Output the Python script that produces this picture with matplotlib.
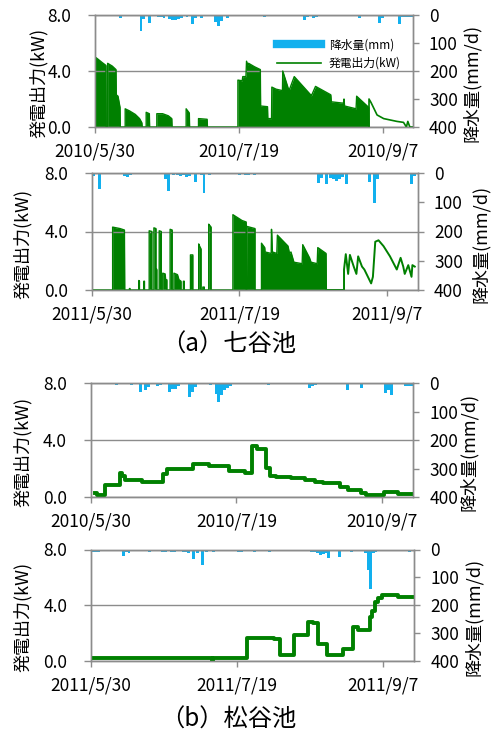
import matplotlib
matplotlib.use('Agg')
import matplotlib.pyplot as plt
from matplotlib.lines import Line2D

plt.rcParams['font.family'] = ['Noto Sans CJK JP', 'DejaVu Sans']

W, H = 499, 736
GREEN = '#008000'
BLUE = '#12B0EE'
GRAY = '#8C8C8C'

# days counted from 5/30 of each year
tick_days = [0, 50, 100]
labels_2010 = ['2010/5/30', '2010/7/19', '2010/9/7']
labels_2011 = ['2011/5/30', '2011/7/19', '2011/9/7']

# ---- (a) 七谷池 2010 ----
r1_day = [9, 16, 17, 19, 22, 23, 24, 26, 27, 28, 29, 30, 32, 34, 35, 37, 42, 43, 44, 46,
          59, 60, 73, 74, 76, 77, 92, 99, 100, 106, 107, 108, 109, 110]
r1_mm = [10, 57, 15, 28, 7, 8, 10, 14, 17, 18, 16, 12, 8, 33, 10, 9, 25, 39, 20, 10,
         7, 5, 18, 8, 10, 8, 12, 27, 12, 33, 7, 8, 6, 8]
# upper envelope of the on/off output
p1f_day = [0, 0, 1.0, 2.5, 3.8, 3.9,
           4.4, 4.4, 6.0, 7.3, 7.4, 8.0, 8.7, 8.8,
           10.5, 10.5, 12.0, 14.0, 15.5, 16.3, 16.4,
           17.8, 17.8, 18.9, 19.0,
           21.5, 21.5, 23.5, 25.5, 26.7, 26.8,
           31.7, 31.7, 32.8, 32.9,
           36.0, 36.0, 39.0, 39.1,
           49.7, 49.7, 51.2, 51.4, 52.5, 52.7, 53.2, 53.4, 55.5, 57.5, 57.6, 60.0, 60.1,
           61.4, 61.5, 63.0, 65.2, 65.3, 67.3, 67.5, 69.3, 75.0, 75.2, 76.7, 82.0, 82.2,
           86.4, 86.6, 86.8, 90.8, 91.0, 95.2, 95.3]
p1f_kw = [0, 5.0, 4.85, 4.6, 4.4, 0,
          0, 4.55, 4.35, 4.1, 2.3, 2.2, 1.4, 0,
          0, 1.3, 1.15, 0.9, 0.6, 0.3, 0,
          0, 1.05, 0.95, 0,
          0, 0.95, 0.95, 0.8, 0.6, 0,
          0, 1.3, 1.0, 0,
          0, 0.6, 0.55, 0,
          0, 3.35, 3.3, 3.6, 3.6, 4.7, 4.4, 4.55, 4.3, 4.1, 1.5, 1.45, 0.6,
          0.6, 2.85, 2.7, 2.6, 4.0, 2.7, 2.6, 3.6, 2.3, 2.2, 2.9, 2.3, 1.8,
          1.7, 2.0, 1.5, 1.3, 2.2, 1.4, 0]
p1l_day = [95.3, 95.3, 96.0, 98.1, 100.4, 102.7, 105.0, 107.3, 108.3, 108.8, 109.5, 110.8]
p1l_kw = [0, 2.0, 1.75, 0.86, 0.6, 0.5, 0.4, 0.33, 0.0, 0.4, 0.0, 0.0]

# ---- (a) 七谷池 2011 ----
r2_day = [0.5, 2.5, 11, 12, 13, 18, 21.5, 24.8, 26, 27.5, 29, 30, 31, 32, 33, 35, 37, 38, 40,
          50, 51, 52, 53, 54, 55, 56, 57, 60,
          77, 78, 79.5, 81, 82, 83, 84, 85, 86.5, 94, 95.7, 97, 108.5, 109.5]
r2_mm = [10, 56, 10, 14, 8, 5, 5, 22, 62, 8, 8, 10, 8, 12, 9, 30, 8, 68, 6,
         6, 5, 6, 6, 5, 6, 5, 5, 5,
         33, 16, 38, 18, 22, 27, 20, 14, 38, 30, 102, 22, 37, 10]
p2f_day = [0, 7.0, 7.0, 9.5, 11.0, 11.1,
           12.7, 12.7, 12.9, 12.9,
           15.9, 15.9, 16.1, 16.1,
           17.6, 17.6, 17.8, 17.8,
           19.4, 19.4, 20.3, 20.3,
           21.0, 21.0, 21.7, 21.7, 22.0, 22.0,
           22.8, 22.8, 23.5, 23.5,
           24.0, 24.0, 24.8, 25.0, 25.4, 25.4,
           26.5, 26.5, 27.2, 27.2,
           27.8, 27.8, 29.0, 29.5, 30.2, 30.2,
           31.0, 31.0, 31.3, 31.3,
           33.4, 33.4, 34.2, 34.2,
           36.2, 36.2, 36.5, 37.0, 37.0,
           37.6, 37.6, 38.1, 38.1,
           39.6, 39.6, 40.0, 40.4, 40.4,
           47.8, 47.8, 50.9, 52.3, 52.4, 52.5, 55.3, 55.3,
           57.5, 57.5, 58.6, 58.7, 60.8, 60.9, 61.2, 62.7, 62.9, 66.5, 67.0, 67.5,
           68.5, 71.3, 71.5, 73.8, 74.3, 76.4, 76.6, 79.4, 79.5]
p2f_kw = [0, 0, 4.3, 4.2, 4.1, 0,
          0, 0.1, 0.1, 0,
          0, 0.65, 0.6, 0,
          0, 0.6, 0.6, 0,
          0, 4.05, 4.0, 0,
          0, 4.25, 4.2, 1.5, 1.4, 0,
          0, 4.05, 4.0, 0,
          0, 1.15, 1.1, 0.7, 0.7, 0,
          0, 4.15, 4.1, 0,
          0, 1.15, 1.05, 0.7, 0.6, 0,
          0, 0.6, 0.6, 0,
          0, 2.4, 2.4, 0,
          0, 3.15, 3.0, 2.8, 0,
          0, 0.2, 0.2, 0,
          0, 4.5, 4.4, 4.3, 0,
          0, 5.15, 4.75, 4.65, 0, 4.35, 4.2, 0,
          0, 3.2, 2.9, 2.6, 2.5, 4.15, 2.6, 2.5, 3.75, 3.0, 2.5, 2.6,
          1.9, 1.8, 3.1, 2.2, 1.9, 1.8, 2.9, 2.5, 0]
p2l_day = [79.5, 85.5, 85.5, 86.1, 86.9, 87.5, 88.8, 89.7, 90.3, 91.6, 92.4, 94.7, 95.3,
           96.1, 97.2, 98.9, 101.1, 103.4, 104.7, 105.6, 106.1, 107.3, 108.4, 108.7, 109.5]
p2l_kw = [0, 0, 1.4, 2.45, 1.1, 2.4, 1.6, 1.1, 2.3, 1.6, 1.4, 0.45, 0.9,
          3.3, 3.4, 3.0, 2.3, 1.4, 2.2, 1.6, 1.1, 1.7, 0.9, 1.7, 1.6]

# ---- (b) 松谷池 2010 ----
r3_day = [9, 14, 17, 19, 20, 23, 24, 27, 28, 29, 30, 34, 35, 36, 41, 43, 44, 45, 46, 47, 48,
          61, 75, 76, 77, 88, 93, 101, 102, 103, 108, 109, 110]
r3_mm = [8, 6, 32, 24, 15, 10, 8, 32, 22, 22, 12, 48, 30, 15, 7, 37, 67, 42, 26, 18, 12,
         6, 16, 12, 6, 25, 16, 35, 25, 42, 12, 9, 12]
p3_day = [1.7, 2.2, 4.9, 10.0, 10.9, 11.7, 17.8, 24.9, 26.2, 35.1, 40.5, 47.4, 52.8, 55.2,
          57.0, 60.0, 61.5, 63.5, 68.8, 73.4, 76.8, 79.7, 85.6, 88.2, 92.7, 94.3, 100.5,
          105.3, 110.5]
p3_kw = [0.3, 0.15, 0.82, 1.68, 1.5, 1.2, 1.05, 1.58, 1.97, 2.32, 2.2, 1.82, 1.68, 3.58,
         3.4, 2.05, 1.5, 1.43, 1.33, 1.2, 1.05, 0.95, 0.72, 0.5, 0.3, 0.17, 0.36,
         0.19, 0.19]

# ---- (b) 松谷池 2011 ----
r4_day = [0.5, 1.5, 2.5, 11, 12, 13, 20, 24.5, 25.5, 27.5, 28.5, 31.5, 32.5, 33.5, 35, 36.5,
          38, 39.5, 42, 50.5, 51.5, 56, 61, 75.5, 76.5, 77.5, 78.5, 79.5, 80.5, 81.2,
          85, 89, 94, 94.8, 95.6, 96.6, 97.5, 109]
r4_mm = [10, 10, 10, 22, 10, 12, 8, 8, 8, 8, 8, 8, 10, 12, 35, 12, 56, 10, 8, 8, 8, 8, 8,
         8, 10, 12, 20, 15, 12, 30, 27, 8, 12, 75, 142, 12, 10, 10]
p4_day = [0.0, 41.2, 41.5, 41.8, 53.5, 62.5, 64.8, 69.3, 74.4, 76.0, 77.8, 80.6, 86.3,
          89.5, 91.3, 95.4, 96.3, 97.2, 98.3, 99.5, 105.0, 110.5]
p4_kw = [0.22, 0.22, 0.0, 0.22, 1.65, 1.55, 0.46, 1.9, 2.8, 2.7, 1.25, 0.41, 0.84,
         2.44, 2.2, 3.15, 3.6, 4.2, 4.55, 4.72, 4.6, 4.6]

fig = plt.figure(figsize=(W / 100, H / 100), dpi=100)


def px_axes(left, top, right, bottom):
    return fig.add_axes([left / W, 1 - bottom / H, (right - left) / W, (bottom - top) / H])


def setup(ax, rain_day, rain_mm, xlabels, ylab_x, rlab_x):
    ax2 = ax.twinx()
    ax2.bar(rain_day, rain_mm, width=1.0, color=BLUE, linewidth=0)
    ax2.set_ylim(400, 0)
    ax2.set_yticks([0, 100, 200, 300, 400])
    ax.set_zorder(ax2.get_zorder() + 1)
    ax.patch.set_visible(False)

    ax.set_xlim(0, 110.6)
    ax.set_ylim(0, 8)
    ax.set_yticks([0, 4, 8])
    ax.set_yticklabels(['0.0', '4.0', '8.0'])
    ax.set_xticks(tick_days)
    ax.set_xticklabels(xlabels)
    ax.grid(axis='y', color=GRAY, lw=1)
    for a in (ax, ax2):
        for s in a.spines.values():
            s.set_color(GRAY)
            s.set_linewidth(1)
        a.tick_params(direction='out', width=1, color=GRAY, labelsize=12.5)
    ax.tick_params(axis='x', length=4, pad=7.5)
    ax.tick_params(axis='y', length=5, pad=12)
    ax2.tick_params(axis='y', length=4, pad=7.5)

    bb = ax.get_position()
    yc = (1 - (bb.y0 + bb.y1) / 2) * H + 12
    fig.text(ylab_x / W, 1 - yc / H, '発電出力(kW)', rotation=90,
             ha='center', va='center', fontsize=13)
    fig.text(rlab_x / W, 1 - yc / H, '降水量(mm/d)', rotation=90,
             ha='center', va='center', fontsize=13)
    return ax2


ax1 = px_axes(95, 15, 413, 127)
setup(ax1, r1_day, r1_mm, labels_2010, 39, 472)
ax1.fill_between(p1f_day, 0, p1f_kw, color=GREEN, lw=0)
ax1.plot(p1f_day, p1f_kw, color=GREEN, lw=1.0)
ax1.plot(p1l_day, p1l_kw, color=GREEN, lw=1.2)

ax2 = px_axes(92, 173, 418, 290)
setup(ax2, r2_day, r2_mm, labels_2011, 23, 481)
ax2.fill_between(p2f_day, 0, p2f_kw, color=GREEN, lw=0)
ax2.plot(p2f_day, p2f_kw, color=GREEN, lw=1.0)
ax2.plot(p2l_day, p2l_kw, color=GREEN, lw=1.4)

ax3 = px_axes(90.5, 383, 413.3, 497)
setup(ax3, r3_day, r3_mm, labels_2010, 23, 469)
ax3.plot(p3_day, p3_kw, color=GREEN, lw=2.8, drawstyle='steps-post')

ax4 = px_axes(91, 549.5, 414.3, 661)
setup(ax4, r4_day, r4_mm, labels_2011, 23, 474)
ax4.plot(p4_day, p4_kw, color=GREEN, lw=2.8, drawstyle='steps-post')

handles = [Line2D([], [], color=BLUE, lw=6), Line2D([], [], color=GREEN, lw=1.2)]
fig.legend(handles, ['降水量(mm)', '発電出力(kW)'], loc='upper left',
           bbox_to_anchor=(266 / W, 1 - 28 / H), frameon=False, fontsize=8.5,
           handlelength=3.8, handletextpad=0.6, labelspacing=0.45)

fig.text(229 / W, 1 - 345 / H, '（a）七谷池', ha='center', va='center', fontsize=17.5)
fig.text(228 / W, 1 - 720 / H, '（b）松谷池', ha='center', va='center', fontsize=17.5)

fig.savefig('out.png', dpi=100)
